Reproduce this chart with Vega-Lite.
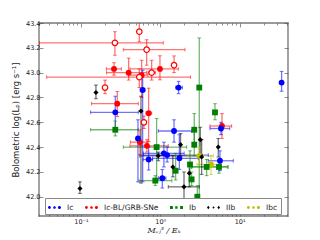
{
  "$schema": "https://vega.github.io/schema/vega-lite/v6.json",
  "autosize": {"type": "none"},
  "width": 249,
  "height": 193,
  "padding": {"left": 39, "top": 23, "right": 32, "bottom": 24},
  "background": "white",
  "config": {
    "view": {"stroke": "#999999", "strokeWidth": 1.8},
    "font": "DejaVu Sans"
  },
  "data": {"values": [
    {"t": "Ic-BL/GRB-SNe", "grb": true, "x": 0.268, "xlo": 0.030, "xhi": 1.09, "y": 43.24, "ylo": 43.14, "yhi": 43.33},
    {"t": "Ic-BL/GRB-SNe", "grb": true, "x": 0.544, "xlo": null, "xhi": null, "y": 43.33, "ylo": 43.25, "yhi": 43.45},
    {"t": "Ic-BL/GRB-SNe", "grb": true, "x": 0.673, "xlo": 0.342, "xhi": 2.05, "y": 43.185, "ylo": 43.06, "yhi": 43.265},
    {"t": "Ic-BL/GRB-SNe", "grb": true, "x": 0.778, "xlo": 0.70, "xhi": 0.87, "y": 43.0, "ylo": 42.94, "yhi": 43.10},
    {"t": "Ic-BL/GRB-SNe", "grb": true, "x": 1.49, "xlo": null, "xhi": null, "y": 43.06, "ylo": 43.0, "yhi": 43.135},
    {"t": "Ic-BL/GRB-SNe", "grb": true, "x": 0.544, "xlo": 0.037, "xhi": 2.4, "y": 42.964, "ylo": 42.88, "yhi": 43.03},
    {"t": "Ic-BL/GRB-SNe", "grb": true, "x": 0.201, "xlo": null, "xhi": null, "y": 42.88, "ylo": 42.83, "yhi": 42.94},
    {"t": "Ic-BL/GRB-SNe", "grb": true, "x": 0.622, "xlo": null, "xhi": null, "y": 42.60, "ylo": 42.55, "yhi": 42.65},
    {"t": "Ic-BL/GRB-SNe", "grb": false, "x": 0.261, "xlo": 0.209, "xhi": 0.323, "y": 43.03, "ylo": 42.98, "yhi": 43.08},
    {"t": "Ic-BL/GRB-SNe", "grb": false, "x": 0.399, "xlo": 0.21, "xhi": 0.67, "y": 43.0, "ylo": 42.94, "yhi": 43.117},
    {"t": "Ic-BL/GRB-SNe", "grb": false, "x": 0.582, "xlo": 0.40, "xhi": 0.70, "y": 42.98, "ylo": 42.80, "yhi": 43.10},
    {"t": "Ic-BL/GRB-SNe", "grb": false, "x": 0.99, "xlo": 0.415, "xhi": 1.69, "y": 43.03, "ylo": 42.942, "yhi": 43.136},
    {"t": "Ic-BL/GRB-SNe", "grb": false, "x": 0.287, "xlo": 0.136, "xhi": 0.528, "y": 42.75, "ylo": 42.646, "yhi": 42.848},
    {"t": "Ic-BL/GRB-SNe", "grb": false, "x": 0.713, "xlo": 0.66, "xhi": 0.78, "y": 42.673, "ylo": 42.444, "yhi": 42.875},
    {"t": "Ic-BL/GRB-SNe", "grb": false, "x": 0.554, "xlo": 0.42, "xhi": 0.70, "y": 42.44, "ylo": 42.34, "yhi": 42.54},
    {"t": "Ic-BL/GRB-SNe", "grb": false, "x": 0.679, "xlo": 0.415, "xhi": 1.26, "y": 42.41, "ylo": 42.36, "yhi": 42.46},
    {"t": "Ic-BL/GRB-SNe", "grb": false, "x": 5.99, "xlo": 4.23, "xhi": 7.93, "y": 42.57, "ylo": 42.47, "yhi": 42.67},
    {"t": "Ic", "grb": false, "x": 33.8, "xlo": null, "xhi": null, "y": 42.92, "ylo": 42.85, "yhi": 43.01},
    {"t": "Ic", "grb": false, "x": 1.70, "xlo": 1.56, "xhi": 1.90, "y": 42.88, "ylo": 42.83, "yhi": 42.93},
    {"t": "Ic", "grb": false, "x": 0.599, "xlo": 0.56, "xhi": 0.64, "y": 42.86, "ylo": 42.12, "yhi": 43.02},
    {"t": "Ic", "grb": false, "x": 0.271, "xlo": 0.1324, "xhi": 0.528, "y": 42.68, "ylo": 42.55, "yhi": 42.81},
    {"t": "Ic", "grb": false, "x": 0.523, "xlo": 0.50, "xhi": 0.55, "y": 42.47, "ylo": 42.12, "yhi": 42.62},
    {"t": "Ic", "grb": false, "x": 1.49, "xlo": 0.944, "xhi": 2.48, "y": 42.53, "ylo": 42.44, "yhi": 42.62},
    {"t": "Ic", "grb": false, "x": 1.74, "xlo": 0.80, "xhi": 3.01, "y": 42.31, "ylo": 42.22, "yhi": 42.50},
    {"t": "Ic", "grb": false, "x": 0.713, "xlo": 0.611, "xhi": 0.80, "y": 42.30, "ylo": 42.215, "yhi": 42.40},
    {"t": "Ic", "grb": false, "x": 1.11, "xlo": 0.611, "xhi": 2.0, "y": 42.35, "ylo": 42.24, "yhi": 42.44},
    {"t": "Ic", "grb": false, "x": 1.22, "xlo": 0.61, "xhi": 4.03, "y": 42.336, "ylo": 42.28, "yhi": 42.40},
    {"t": "Ic", "grb": false, "x": 1.06, "xlo": 0.95, "xhi": 1.18, "y": 42.15, "ylo": 42.07, "yhi": 42.22},
    {"t": "Ic", "grb": false, "x": 5.82, "xlo": 4.23, "xhi": 7.5, "y": 42.55, "ylo": 42.50, "yhi": 42.60},
    {"t": "Ic", "grb": false, "x": 5.65, "xlo": 4.03, "xhi": 8.32, "y": 42.29, "ylo": 42.21, "yhi": 42.37},
    {"t": "Ib", "grb": false, "x": 3.10, "xlo": null, "xhi": null, "y": 42.88, "ylo": 41.906, "yhi": 43.28},
    {"t": "Ib", "grb": false, "x": 4.89, "xlo": null, "xhi": null, "y": 42.68, "ylo": 42.62, "yhi": 42.75},
    {"t": "Ib", "grb": false, "x": 0.271, "xlo": 0.1324, "xhi": 0.528, "y": 42.54, "ylo": 42.49, "yhi": 42.61},
    {"t": "Ib", "grb": false, "x": 2.68, "xlo": null, "xhi": null, "y": 42.54, "ylo": 42.40, "yhi": 42.67},
    {"t": "Ib", "grb": false, "x": 2.68, "xlo": null, "xhi": null, "y": 42.42, "ylo": 42.33, "yhi": 42.53},
    {"t": "Ib", "grb": false, "x": 0.899, "xlo": 0.342, "xhi": 2.15, "y": 42.40, "ylo": 42.13, "yhi": 42.63},
    {"t": "Ib", "grb": false, "x": 2.37, "xlo": null, "xhi": null, "y": 42.26, "ylo": 42.135, "yhi": 42.37},
    {"t": "Ib", "grb": false, "x": 1.56, "xlo": null, "xhi": null, "y": 42.21, "ylo": 42.135, "yhi": 42.35},
    {"t": "Ib", "grb": false, "x": 2.48, "xlo": null, "xhi": null, "y": 42.14, "ylo": 42.09, "yhi": 42.20},
    {"t": "Ib", "grb": false, "x": 0.865, "xlo": 0.54, "xhi": 1.4, "y": 42.13, "ylo": 42.09, "yhi": 42.17},
    {"t": "Ib", "grb": false, "x": 3.84, "xlo": 2.48, "xhi": 7.19, "y": 42.24, "ylo": 42.17, "yhi": 42.30},
    {"t": "Ib", "grb": false, "x": 5.49, "xlo": 2.5, "xhi": 7.0, "y": 42.24, "ylo": 42.19, "yhi": 42.29},
    {"t": "Ib", "grb": false, "x": 2.93, "xlo": null, "xhi": null, "y": 42.0, "ylo": 41.906, "yhi": 42.09},
    {"t": "IIb", "grb": false, "x": 0.1545, "xlo": null, "xhi": null, "y": 42.84, "ylo": 42.79, "yhi": 42.90},
    {"t": "IIb", "grb": false, "x": 0.0971, "xlo": null, "xhi": null, "y": 42.067, "ylo": 42.027, "yhi": 42.12},
    {"t": "IIb", "grb": false, "x": 0.571, "xlo": null, "xhi": null, "y": 42.69, "ylo": 42.11, "yhi": 42.81},
    {"t": "IIb", "grb": false, "x": 1.80, "xlo": null, "xhi": null, "y": 42.42, "ylo": 42.33, "yhi": 42.51},
    {"t": "IIb", "grb": false, "x": 0.944, "xlo": 0.55, "xhi": 3.4, "y": 42.33, "ylo": 42.29, "yhi": 42.36},
    {"t": "IIb", "grb": false, "x": 1.44, "xlo": null, "xhi": null, "y": 42.24, "ylo": 42.16, "yhi": 42.33},
    {"t": "IIb", "grb": false, "x": 3.19, "xlo": null, "xhi": null, "y": 42.46, "ylo": 42.33, "yhi": 42.56},
    {"t": "IIb", "grb": false, "x": 3.32, "xlo": null, "xhi": null, "y": 42.32, "ylo": 42.18, "yhi": 42.46},
    {"t": "IIb", "grb": false, "x": 5.38, "xlo": null, "xhi": null, "y": 42.40, "ylo": 42.32, "yhi": 42.47},
    {"t": "IIb", "grb": false, "x": 2.32, "xlo": null, "xhi": null, "y": 42.19, "ylo": 42.08, "yhi": 42.27},
    {"t": "IIb", "grb": false, "x": 1.99, "xlo": 1.26, "xhi": 3.1, "y": 42.08, "ylo": 41.95, "yhi": 42.20},
    {"t": "Ibc", "grb": false, "x": 3.10, "xlo": 2.15, "xhi": 4.66, "y": 42.33, "ylo": 42.26, "yhi": 42.40},
    {"t": "Ibc", "grb": false, "x": 4.35, "xlo": 2.9, "xhi": 5.9, "y": 42.26, "ylo": 42.18, "yhi": 42.33}
  ]},
  "resolve": {"axis": {"x": "independent", "y": "independent"}},
  "layer": [
    {
      "transform": [{"filter": "isValid(datum.xlo)"}],
      "mark": {"type": "rule", "strokeWidth": 1.3, "opacity": 0.55, "clip": true},
      "encoding": {
        "x": {"field": "xlo", "type": "quantitative", "scale": {"type": "log", "domain": [0.0296, 40.7], "nice": false},
          "axis": {"orient": "bottom", "values": [0.03,0.04,0.05,0.06,0.07,0.08,0.09,0.1,0.2,0.3,0.4,0.5,0.6,0.7,0.8,0.9,1,2,3,4,5,6,7,8,9,10,20,30,40],
            "labelExpr": "datum.value == 0.1 ? '10⁻¹' : datum.value == 1 ? '10⁰' : datum.value == 10 ? '10¹' : ''",
            "tickSize": {"condition": {"test": "datum.value == 0.1 || datum.value == 1 || datum.value == 10", "value": -4}, "value": -2},
            "tickColor": "#444", "tickWidth": 0.6, "domain": false, "grid": false, "labelPadding": 6,
            "labelFontSize": 6.5, "labelColor": "#222", "labelFlush": false,
            "title": "Mₑⱼ³ / Eₖ", "titleFont": "DejaVu Serif", "titleFontStyle": "italic", "titleFontWeight": "normal",
            "titleFontSize": 8, "titleColor": "#222", "titlePadding": 2}},
        "x2": {"field": "xhi"},
        "y": {"field": "y", "type": "quantitative", "scale": {"domain": [41.845, 43.4], "nice": false, "zero": false},
          "axis": {"orient": "left", "values": [42.0,42.2,42.4,42.6,42.8,43.0,43.2,43.4], "format": ".1f",
            "tickSize": -4, "tickColor": "#444", "tickWidth": 0.6, "domain": false, "grid": false, "labelPadding": 3,
            "labelFontSize": 6.5, "labelColor": "#222",
            "title": "Bolometric log(Lₚ) [erg s⁻¹]", "titleFontWeight": "normal", "titleFontSize": 8.5,
            "titleColor": "#222", "titlePadding": 5}},
        "color": {"field": "t", "type": "nominal",
          "scale": {"domain": ["Ic", "Ic-BL/GRB-SNe", "Ib", "IIb", "Ibc"], "range": ["#0000ff", "#ff0000", "#008000", "#000000", "#bfbf00"]}}
      }
    },
    {
      "transform": [{"filter": "isValid(datum.ylo)"}],
      "mark": {"type": "rule", "strokeWidth": 1.3, "opacity": 0.55, "clip": true},
      "encoding": {
        "x": {"field": "x", "type": "quantitative", "scale": {"type": "log"},
          "axis": {"orient": "top", "values": [0.03,0.04,0.05,0.06,0.07,0.08,0.09,0.1,0.2,0.3,0.4,0.5,0.6,0.7,0.8,0.9,1,2,3,4,5,6,7,8,9,10,20,30,40],
            "labels": false, "title": null, "domain": false, "grid": false, "tickColor": "#444", "tickWidth": 0.6,
            "tickSize": {"condition": {"test": "datum.value == 0.1 || datum.value == 1 || datum.value == 10", "value": -4}, "value": -2}}},
        "y": {"field": "ylo", "type": "quantitative",
          "axis": {"orient": "right", "values": [42.0,42.2,42.4,42.6,42.8,43.0,43.2,43.4], "labels": false, "title": null,
            "domain": false, "grid": false, "tickSize": -4, "tickColor": "#444", "tickWidth": 0.6}},
        "y2": {"field": "yhi"},
        "color": {"field": "t", "type": "nominal"}
      }
    },
    {
      "transform": [{"filter": "isValid(datum.xlo)"}, {"fold": ["xlo", "xhi"], "as": ["end", "xe"]}],
      "mark": {"type": "point", "shape": "M0,-1L0,1", "size": 14, "strokeWidth": 1, "opacity": 0.55, "filled": false, "clip": true},
      "encoding": {
        "x": {"field": "xe", "type": "quantitative", "axis": null},
        "y": {"field": "y", "type": "quantitative", "axis": null},
        "color": {"field": "t", "type": "nominal"}
      }
    },
    {
      "transform": [{"filter": "isValid(datum.ylo)"}, {"fold": ["ylo", "yhi"], "as": ["end", "ye"]}],
      "mark": {"type": "point", "shape": "M-1,0L1,0", "size": 14, "strokeWidth": 1, "opacity": 0.55, "filled": false, "clip": true},
      "encoding": {
        "x": {"field": "x", "type": "quantitative", "axis": null},
        "y": {"field": "ye", "type": "quantitative", "axis": null},
        "color": {"field": "t", "type": "nominal"}
      }
    },
    {
      "transform": [{"filter": "!datum.grb && (datum.t === 'Ic' || datum.t === 'Ic-BL/GRB-SNe' || datum.t === 'Ibc')"}],
      "mark": {"type": "point", "filled": true, "opacity": 1, "size": 34, "shape": "circle", "clip": true},
      "encoding": {
        "x": {"field": "x", "type": "quantitative", "axis": null},
        "y": {"field": "y", "type": "quantitative", "axis": null},
        "color": {"field": "t", "type": "nominal",
          "legend": {"orient": "none", "legendX": 6, "legendY": 175, "direction": "horizontal", "columns": 5,
            "title": null, "columnPadding": 11, "padding": 3, "strokeColor": "#888888", "fillColor": "white",
            "cornerRadius": 0, "labelFontSize": 7.5, "labelColor": "#222", "labelOffset": 6,
            "symbolSize": 169, "symbolStrokeWidth": 0, "symbolOpacity": 1,
            "symbolType": "M-1,0a0.22,0.22 0 1,0 0.44,0a0.22,0.22 0 1,0 -0.44,0ZM-0.2,0a0.2,0.2 0 1,0 0.4,0a0.2,0.2 0 1,0 -0.4,0ZM0.52,0a0.24,0.24 0 1,0 0.48,0a0.24,0.24 0 1,0 -0.48,0Z",
            "encode": {"symbols": {"update": {"shape": {"signal": "datum.value === 'Ib' ? 'M-1,-0.22h0.44v0.44h-0.44ZM-0.2,-0.18h0.36v0.36h-0.36ZM0.56,-0.22h0.44v0.44h-0.44Z' : datum.value === 'IIb' ? 'M-0.8,-0.26L-0.6,0L-0.8,0.26L-1,0ZM0,-0.2L0.16,0L0,0.2L-0.16,0ZM0.8,-0.26L1,0L0.8,0.26L0.6,0Z' : 'M-1,0a0.22,0.22 0 1,0 0.44,0a0.22,0.22 0 1,0 -0.44,0ZM-0.2,0a0.2,0.2 0 1,0 0.4,0a0.2,0.2 0 1,0 -0.4,0ZM0.52,0a0.24,0.24 0 1,0 0.48,0a0.24,0.24 0 1,0 -0.48,0Z'"}}}}}}
      }
    },
    {
      "transform": [{"filter": "datum.t === 'Ib'"}],
      "mark": {"type": "point", "filled": true, "opacity": 1, "size": 34, "shape": "square", "clip": true},
      "encoding": {
        "x": {"field": "x", "type": "quantitative", "axis": null},
        "y": {"field": "y", "type": "quantitative", "axis": null},
        "color": {"field": "t", "type": "nominal"}
      }
    },
    {
      "transform": [{"filter": "datum.t === 'IIb'"}],
      "mark": {"type": "point", "filled": true, "opacity": 1, "size": 26, "shape": "diamond", "clip": true},
      "encoding": {
        "x": {"field": "x", "type": "quantitative", "axis": null},
        "y": {"field": "y", "type": "quantitative", "axis": null},
        "color": {"field": "t", "type": "nominal"}
      }
    },
    {
      "transform": [{"filter": "datum.grb"}],
      "mark": {"type": "point", "filled": false, "fill": "white", "fillOpacity": 1, "strokeWidth": 1.2, "size": 30, "shape": "circle", "clip": true},
      "encoding": {
        "x": {"field": "x", "type": "quantitative", "axis": null},
        "y": {"field": "y", "type": "quantitative", "axis": null},
        "color": {"field": "t", "type": "nominal"}
      }
    }
  ]
}
